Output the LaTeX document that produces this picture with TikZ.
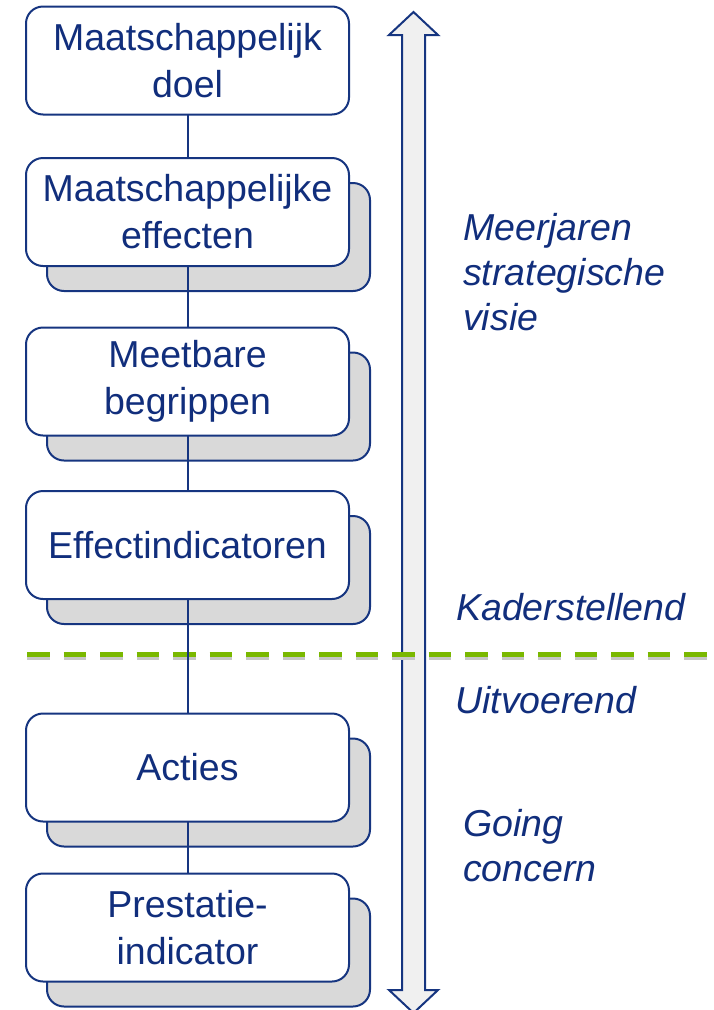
\documentclass[tikz,border=0pt]{standalone}
\usepackage{fontspec}
\setmainfont{Liberation Sans}

\definecolor{navy}{HTML}{163580}
\definecolor{tekstblauw}{HTML}{112E7C}
\definecolor{lijngroen}{HTML}{7AB800}
\definecolor{schaduw}{HTML}{D9D9D9}
\definecolor{pijlvul}{HTML}{F0F0F0}

\pgfdeclarelayer{back}
\pgfdeclarelayer{mid}
\pgfsetlayers{back,mid,main}

\begin{document}
\begin{tikzpicture}[x=1pt,y=-1pt,
  box/.style={draw=navy,line width=2pt,rounded corners=17pt,fill=white,text=tekstblauw,
    minimum width=323pt,minimum height=108pt,align=center,inner sep=0pt,outer sep=0pt,
    font=\fontsize{37.5}{47}\selectfont},
  schaduwbox/.style={draw=navy,line width=2pt,rounded corners=17pt,fill=schaduw},
  zijtekst/.style={text=tekstblauw,anchor=west,align=left,inner sep=0pt,
    font=\fontsize{37.5}{45}\selectfont\itshape}]
\useasboundingbox (0,0) rectangle (713,1010);

\node[box] (1) at (187.5,60.5) {Maatschappelijk\\doel};
\node[box] (2) at (187.5,212) {Maatschappelijke\\effecten};
\node[box] (3) at (187.5,381.5) {Meetbare\\begrippen};
\node[box] (4) at (187.5,545) {Effectindicatoren};
\node[box] (5) at (187.5,767.5) {Acties};
\node[box] (6) at (187.5,927.5) {Prestatie-\\indicator};

\node[zijtekst] (visie) at (463,272) {Meerjaren\\strategische\\visie};
\node[zijtekst] (kader) at (456,607) {Kaderstellend};
\node[zijtekst] (uitvoer) at (455,700) {Uitvoerend};
\node[zijtekst] (going) at (463,846) {Going\\concern};

\coordinate (grensL) at (27,654);
\coordinate (grensR) at (713,654);

\begin{pgfonlayer}{back}
\draw[draw=navy,line width=2pt,fill=pijlvul,line join=miter]
  (402,35) -- (389,35) -- (413.5,12) -- (438,35) -- (425,35) -- (425,990)
  -- (438,990) -- (413.5,1013) -- (389,990) -- (402,990) -- cycle;
\draw[gray!45,line width=5pt,dash pattern=on 22.5pt off 14pt] ([yshift=-3pt]grensL) -- ([yshift=-3pt]grensR);
\draw[lijngroen,line width=5pt,dash pattern=on 22.5pt off 14pt] (grensL) -- (grensR);
\foreach \n in {2,3,4,5,6}
  \draw[schaduwbox] ([shift={(21,25)}]\n.north west) rectangle ([shift={(21,25)}]\n.south east);
\end{pgfonlayer}

\begin{pgfonlayer}{mid}
\draw[navy,line width=2pt] (1) -- (2) -- (3) -- (4) -- (5) -- (6);
\end{pgfonlayer}
\end{tikzpicture}
\end{document}
